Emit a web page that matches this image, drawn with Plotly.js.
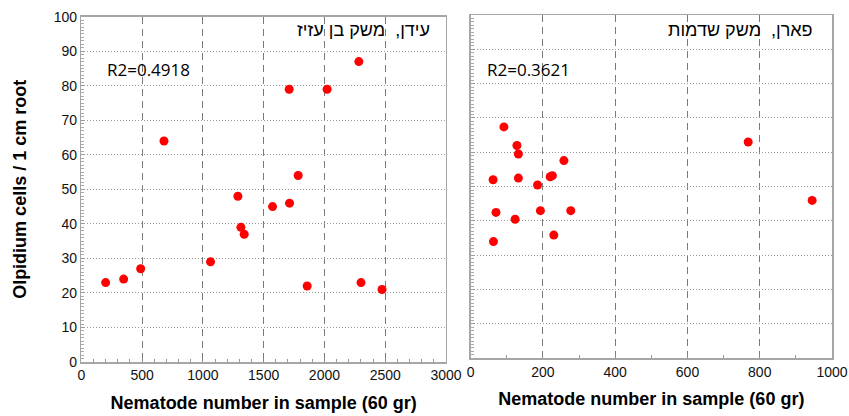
<!DOCTYPE html>
<html><head><meta charset="utf-8">
<script src="https://cdn.plot.ly/plotly-3.0.1.min.js"></script>
<style>html,body{margin:0;padding:0;background:#fff}#chart{width:849px;height:416px}</style>
</head><body><div id="chart"></div>
<script>
// Left panel: עידן, משק בן עזיז
const leftX = [200, 348, 488, 680, 1063, 1288, 1313, 1340, 1573, 1710, 1713, 1784, 1858, 2022, 2283, 2301, 2474];
const leftY = [23, 24, 27, 64, 29, 48, 39, 37, 45, 79, 46, 54, 22, 79, 87, 23, 21];
// Right panel: פארן, משק שדמות
const rightX = [62, 63, 70, 92, 123, 128, 132, 132, 185, 193, 220, 226, 230, 258, 277, 768, 945];
const rightY = [52, 34, 42.5, 67.4, 40.5, 62, 59.5, 52.5, 50.5, 43, 52.9, 53.2, 35.9, 57.6, 43, 63, 46];
const leftTitle = "עידן,  משק בן עזיז";
const rightTitle = "פארן,  משק שדמות";
const leftR2 = "R2=0.4918";
const rightR2 = "R2=0.3621";
const xTitle = "Nematode number in sample (60 gr)";
const yTitle = "Olpidium cells / 1 cm root";

const tickFont = {family: "Liberation Sans, Arial, sans-serif", size: 14, color: "#111"};
const titleFont = {family: "Liberation Sans, Arial, sans-serif", size: 18, color: "#000", weight: "bold"};
const markerStyle = {color: "#ff0000", size: 9};

function xaxisCfg(range, dtick, minorDtick, domain) {
  return {
    domain: domain, range: range, dtick: dtick, tick0: 0,
    showgrid: true, gridcolor: "#7a7a7a", gridwidth: 1, griddash: "7px,5px",
    zeroline: false, showline: true, linecolor: "#a6a6a6", linewidth: 1.5, mirror: true,
    ticks: "inside", ticklen: 4, tickcolor: "#888",
    minor: {dtick: minorDtick, ticks: "inside", ticklen: 3, tickcolor: "#999", showgrid: false},
    tickfont: tickFont, fixedrange: true,
    title: {text: xTitle, font: titleFont, standoff: 14}
  };
}
function yaxisCfg(domain, anchor, showLabels) {
  return {
    domain: domain, anchor: anchor, range: [0, 100], dtick: 10,
    showgrid: true, gridcolor: "#9a9a9a", gridwidth: 1, griddash: "1px,2px",
    zeroline: false, showline: true, linecolor: "#a6a6a6", linewidth: 1.5, mirror: true,
    ticks: "inside", ticklen: 4, tickcolor: "#999",
    minor: {dtick: 1, ticks: "inside", ticklen: 3, tickcolor: "#aaa", showgrid: false},
    showticklabels: showLabels, tickfont: tickFont, fixedrange: true,
    title: showLabels ? {text: yTitle, font: titleFont, standoff: 22} : {text: ""}
  };
}

const data = [
  {x: leftX, y: leftY, type: "scatter", mode: "markers", marker: markerStyle, xaxis: "x", yaxis: "y", hoverinfo: "x+y"},
  {x: rightX, y: rightY, type: "scatter", mode: "markers", marker: markerStyle, xaxis: "x2", yaxis: "y2", hoverinfo: "x+y"}
];

const annFont = {family: "Open Sans, Noto Sans, sans-serif", size: 17, color: "#000"};
const hebFont = {family: "Liberation Sans, DejaVu Sans, sans-serif", size: 18, color: "#000"};

const layout = {
  width: 849, height: 416,
  margin: {l: 0, r: 0, t: 0, b: 0},
  paper_bgcolor: "#fff", plot_bgcolor: "#fff",
  showlegend: false,
  xaxis: Object.assign(xaxisCfg([0, 3000], 500, 100, [0.0958, 0.5253]), {anchor: "y"}),
  yaxis: yaxisCfg([0.1298, 0.9599], "x", true),
  xaxis2: Object.assign(xaxisCfg([0, 1000], 200, 100, [0.5544, 0.980]), {anchor: "y2"}),
  yaxis2: yaxisCfg([0.1387, 0.9639], "x2", false),
  annotations: [
    {text: leftTitle, xref: "x domain", yref: "y domain", x: 0.9616, y: 0.9615, xanchor: "right", yanchor: "middle", showarrow: false, font: hebFont},
    {text: leftR2, xref: "x domain", yref: "y domain", x: 0.065, y: 0.8457, xanchor: "left", yanchor: "middle", showarrow: false, font: annFont},
    {text: rightTitle, xref: "x2 domain", yref: "y2 domain", x: 0.953, y: 0.956, xanchor: "right", yanchor: "middle", showarrow: false, font: hebFont},
    {text: rightR2, xref: "x2 domain", yref: "y2 domain", x: 0.0396, y: 0.84, xanchor: "left", yanchor: "middle", showarrow: false, font: annFont}
  ]
};

Plotly.newPlot("chart", data, layout, {displayModeBar: false, staticPlot: true});
</script>
</body></html>
